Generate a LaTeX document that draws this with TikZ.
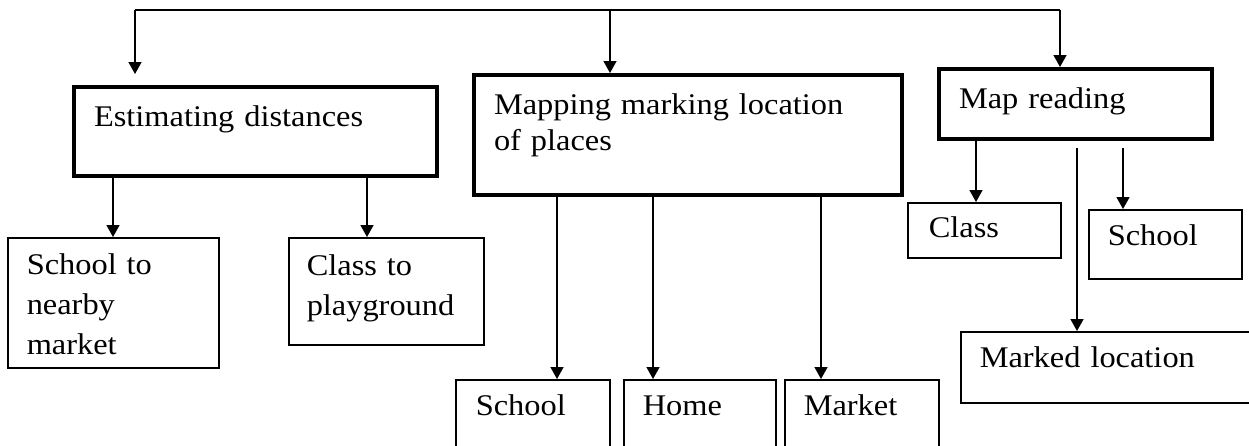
\documentclass[tikz,border=0pt]{standalone}
\usepackage{fontspec}
\setmainfont{Liberation Serif}[FakeStretch=1.08]
\usetikzlibrary{arrows.meta}
\tikzset{
  conn/.style={line width=1.5pt, draw=black},
  arr/.style={conn, -{Triangle[length=12pt,width=13pt]}},
  boxbase/.style={draw=black, anchor=north west, inner ysep=0pt, align=left,
    font=\fontsize{30}{40}\selectfont},
  thinbox/.style={boxbase, line width=1.5pt},
  thickbox/.style={boxbase, line width=4pt},
}
\begin{document}
\begin{tikzpicture}[x=1pt,y=-1pt]
\clip (0,0) rectangle (1249,445);
\fill[white] (0,0) rectangle (1249,445);

% top level boxes
\node[thickbox, inner xsep=20pt, text width=323pt, text height=39pt, text depth=50pt]
  (est) at (72,85) {Estimating distances};
\node[thickbox, inner xsep=20pt, text width=388pt, text height=39pt, text depth=81pt,
  font=\fontsize{30}{36}\selectfont]
  (map) at (472,73) {Mapping marking location\\of places};
\node[thickbox, inner xsep=20pt, text width=233pt, text height=39pt, text depth=31pt]
  (mr) at (937,67) {Map reading};

% estimating children
\node[thinbox, inner xsep=19pt, text width=173pt, text height=37pt, text depth=93pt]
  (snm) at (7,237) {School to\\nearby\\market};
\node[thinbox, inner xsep=18pt, text width=159pt, text height=38pt, text depth=69pt]
  (ctp) at (288,237) {Class to\\playground};

% mapping children
\node[thinbox, inner xsep=20pt, text width=114pt, text height=36pt, text depth=50pt]
  (sch) at (455,379) {School};
\node[thinbox, inner xsep=19pt, text width=114pt, text height=36pt, text depth=50pt]
  (home) at (623,379) {Home};
\node[thinbox, inner xsep=19pt, text width=116pt, text height=36pt, text depth=50pt]
  (mkt) at (784,379) {Market};

% map reading children
\node[thinbox, inner xsep=21pt, text width=111pt, text height=35pt, text depth=20pt]
  (cls) at (907,202) {Class};
\node[thinbox, inner xsep=19pt, text width=115pt, text height=36pt, text depth=33pt]
  (sch2) at (1088,209) {School};
\node[thinbox, inner xsep=19pt, text width=262pt, text height=36pt, text depth=35pt]
  (mkd) at (960,331) {Marked location};

% top connector
\coordinate (tl) at (135,10);
\coordinate (tm) at (610,10);
\coordinate (tr) at (1060,10);
\draw[conn] (tl) -- (tr);
\draw[arr, shorten >=11pt] (tl) -- (tl |- est.north);
\draw[arr] (tm) -- (tm |- map.north);
\draw[arr] (tr) -- (tr |- mr.north);

% estimating arrows
\draw[arr] ([xshift=41pt]est.south west) -- ([xshift=106pt]snm.north west);
\draw[arr] ([xshift=295pt]est.south west) -- ([xshift=79pt]ctp.north west);

% mapping arrows
\draw[arr] ([xshift=85pt]map.south west) -- ([xshift=102pt]sch.north west);
\draw[arr] ([xshift=181pt]map.south west) -- ([xshift=30pt]home.north west);
\draw[arr] ([xshift=349pt]map.south west) -- ([xshift=37pt]mkt.north west);

% map reading arrows
\draw[arr] ([xshift=39pt]mr.south west) -- ([xshift=69pt]cls.north west);
\draw[arr, shorten <=7pt] ([xshift=186pt]mr.south west) -- ([xshift=35pt]sch2.north west);
\draw[arr, shorten <=7pt] ([xshift=140pt]mr.south west) -- ([xshift=117pt]mkd.north west);
\end{tikzpicture}
\end{document}
